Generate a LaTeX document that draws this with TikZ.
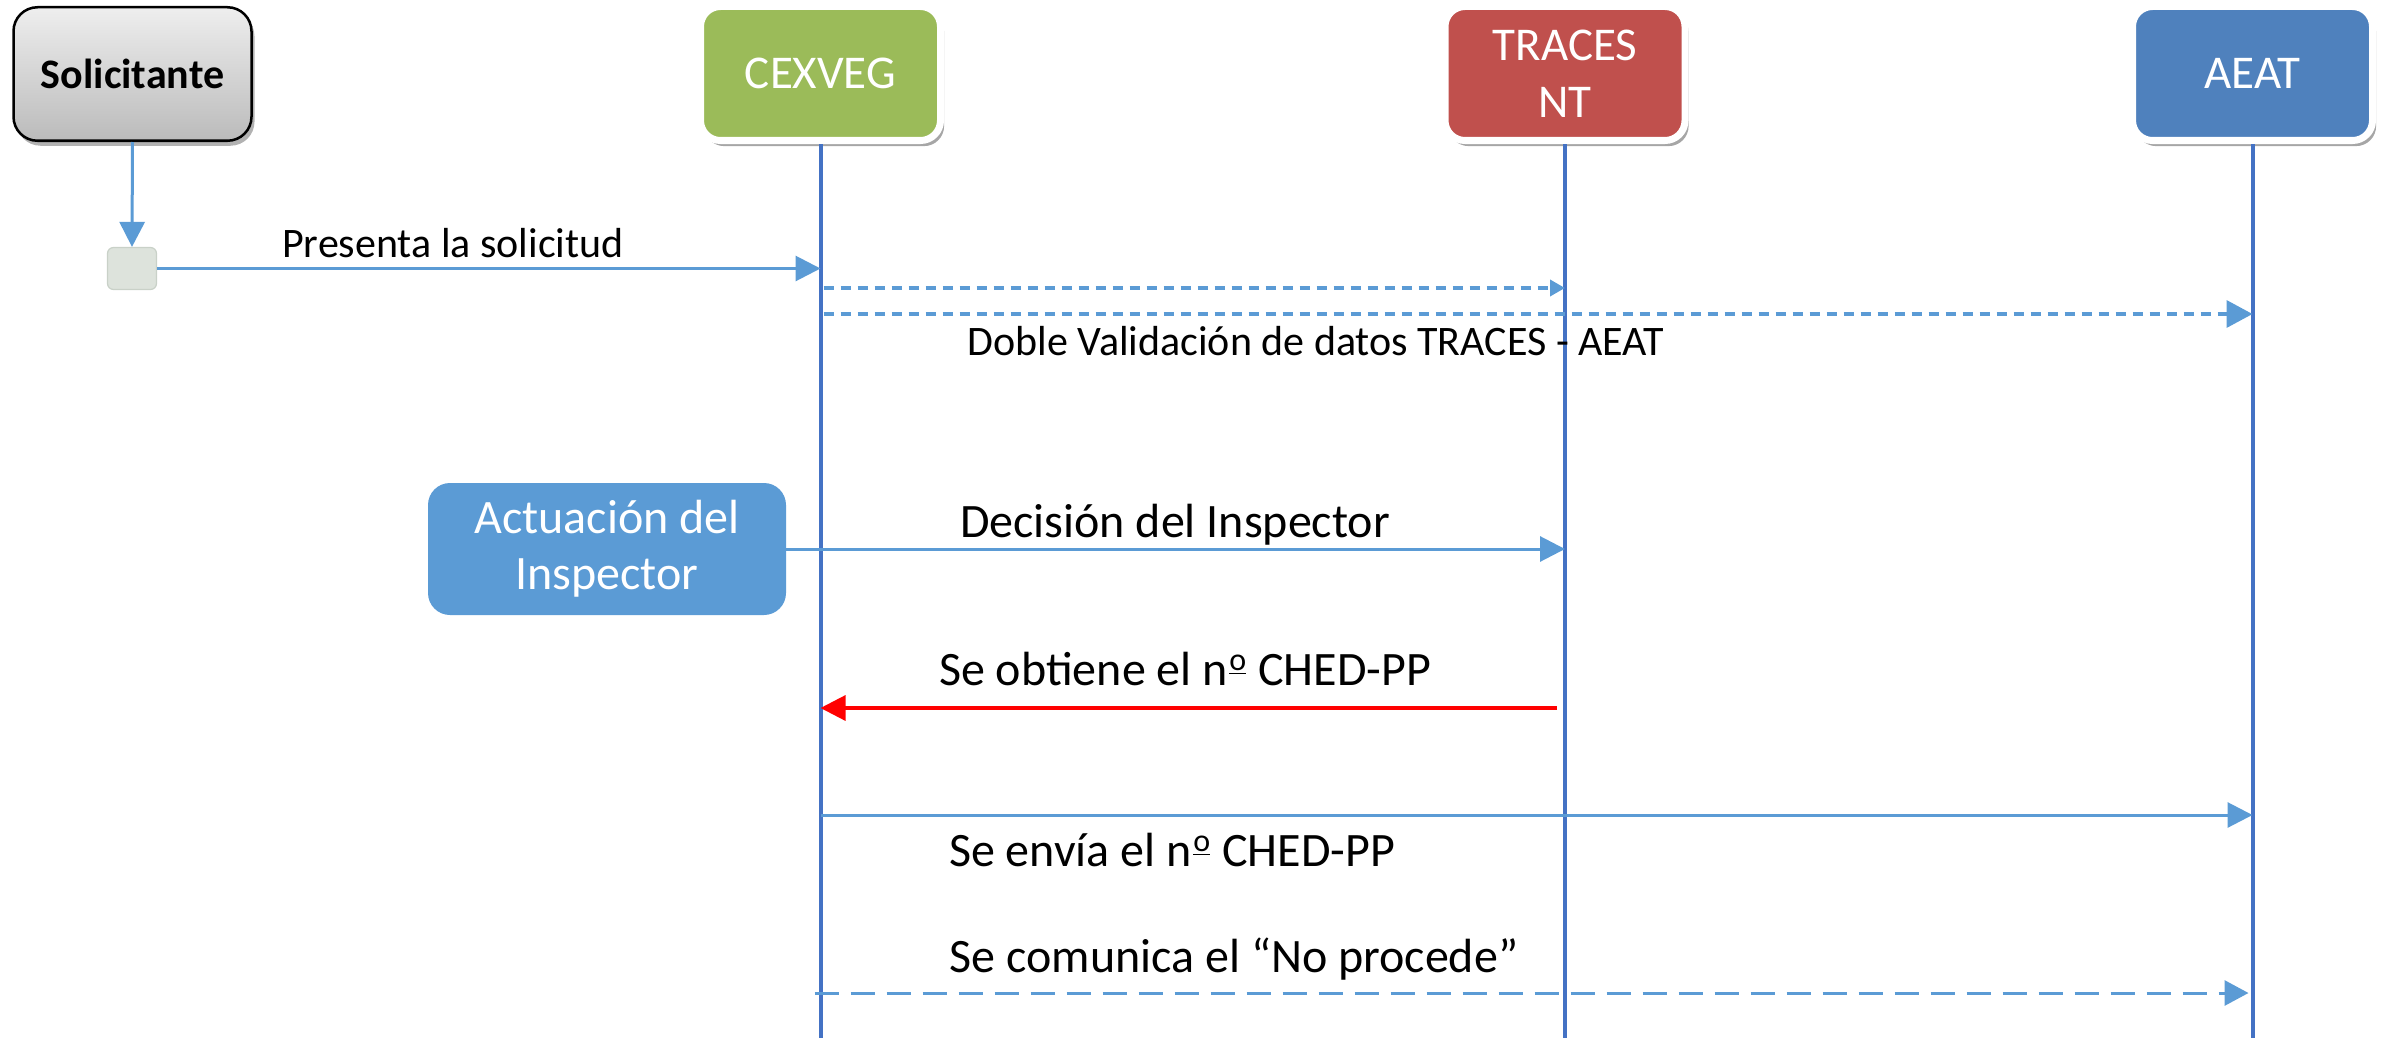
\documentclass[tikz,border=0pt]{standalone}
\usepackage{fontspec}
\setmainfont{Carlito}
\usetikzlibrary{arrows.meta,shadows}
\definecolor{lifeC}{HTML}{4472C4}
\definecolor{arrC}{HTML}{5B9BD5}
\definecolor{hdrGreen}{HTML}{9BBB59}
\definecolor{hdrRed}{HTML}{C0504D}
\definecolor{hdrBlue}{HTML}{4F81BD}
\definecolor{actBlue}{HTML}{5B9BD5}
\definecolor{sqFill}{HTML}{DDE3DC}
\definecolor{sqDraw}{HTML}{C9D1C8}
\definecolor{solTop}{HTML}{EEEEEE}
\definecolor{solBot}{HTML}{BBBBBB}
\definecolor{msgRed}{HTML}{FF0000}
\newcommand{\myordo}{\kern0.8pt\raisebox{0.62ex}{\fontsize{16}{16}\selectfont\underline{o}}\kern0.5pt}
\begin{document}
\begin{tikzpicture}[x=0.5pt,y=-0.5pt,
  header/.style={rounded corners=10pt, draw=white, line width=3.5pt,
    minimum width=120pt, minimum height=67pt, text=white, inner sep=0pt,
    font=\fontsize{23.5}{28.5}\selectfont, align=center,
    drop shadow={shadow xshift=1.8pt, shadow yshift=-2.8pt, opacity=0.35, fill=black}},
  actor/.style={rounded corners=12pt, draw=black, line width=1.25pt,
    top color=solTop, bottom color=solBot, minimum width=119pt, minimum height=66.75pt,
    inner sep=0pt, font=\fontsize{21}{25}\selectfont\bfseries,
    drop shadow={shadow xshift=1.5pt, shadow yshift=-2.5pt, opacity=0.3, fill=black}},
  actbox/.style={rounded corners=11pt, fill=actBlue, minimum width=179pt, minimum height=66pt,
    inner sep=0pt, text=white, align=center, font=\fontsize{24}{28}\selectfont},
  smallsq/.style={rounded corners=3pt, fill=sqFill, draw=sqDraw, line width=0.6pt,
    minimum width=24.5pt, minimum height=21pt, inner sep=0pt},
  life/.style={draw=lifeC, line width=2pt},
  msg/.style={draw=arrC, line width=1.5pt, -{Triangle[length=12.5pt,width=12.5pt]}},
  dmsg/.style={draw=arrC, line width=1.8pt, dash pattern=on 5pt off 3.5pt},
  smallhead/.style={-{Triangle[length=7.5pt,width=8pt]}},
  bighead/.style={-{Triangle[length=13pt,width=13.5pt]}},
  ldmsg/.style={draw=arrC, line width=1.5pt, dash pattern=on 12pt off 6pt,
    -{Triangle[length=12pt,width=12.5pt]}},
  redmsg/.style={draw=msgRed, line width=1.6pt, -{Triangle[length=12.5pt,width=12.5pt]}},
  lblS/.style={font=\fontsize{21}{25}\selectfont, inner sep=0pt, anchor=base},
  lblL/.style={font=\fontsize{24}{28}\selectfont, inner sep=0pt, anchor=base}
]
\useasboundingbox (0,0) rectangle (2392,1038);

% headers
\node[actor] (sol) at (132.5,74) {Solicitante};
\node[header, fill=hdrGreen] (cexveg) at (820.5,73.5) {CEXVEG};
\node[header, fill=hdrRed] (traces) at (1565,73.5) {TRACES\\NT};
\node[header, fill=hdrBlue] (aeat) at (2252.5,73.5) {AEAT};

% lifeline ends
\coordinate (cexB) at (820.5,1038);
\coordinate (traB) at (1565,1038);
\coordinate (aeaB) at (2252.5,1038);
\draw[life] (cexveg.south) -- (cexB);
\draw[life] (traces.south) -- (traB);
\draw[life] (aeat.south) -- (aeaB);

% small square and first arrow
\node[smallsq] (sq) at (132,268.5) {};
\draw[msg] (sol.south) -- (sq.north);
\draw[msg] (sq.east) -- (sq.east -| cexveg.south);
\node[lblS] (l1) at (453,257) {Presenta la solicitud};

% double validation
\coordinate (y1) at (0,288);
\coordinate (y2) at (0,314);
\draw[dmsg, smallhead] (cexveg.south |- y1) ++(3,0) -- (traces.south |- y1);
\draw[dmsg, bighead] (cexveg.south |- y2) ++(3,0) -- (aeat.south |- y2);
\node[lblS] (l2) at (1316,355) {Doble Validación de datos TRACES - AEAT};

% inspector
\node[actbox] (act) at (607,549) {Actuación del\\Inspector};
\draw[msg] (act.east) -- (act.east -| traces.south);
\node[lblL] (l3) at (1175,537) {Decisión del Inspector};

% red return
\coordinate (y3) at (0,708);
\draw[redmsg, shorten <=4pt] (traces.south |- y3) -- (cexveg.south |- y3);
\node[lblL] (l4) at (1185,685) {Se obtiene el n\myordo{} CHED-PP};

% send to AEAT
\coordinate (y4) at (0,815);
\draw[msg] (cexveg.south |- y4) -- (aeat.south |- y4);
\node[lblL] (l5) at (1172,866) {Se envía el n\myordo{} CHED-PP};

% no procede
\coordinate (y5) at (0,993);
\draw[ldmsg, shorten <=-3pt, shorten >=2pt] (cexveg.south |- y5) -- (aeat.south |- y5);
\node[lblL] (l6) at (1234,972) {Se comunica el “No procede”};
\end{tikzpicture}
\end{document}
